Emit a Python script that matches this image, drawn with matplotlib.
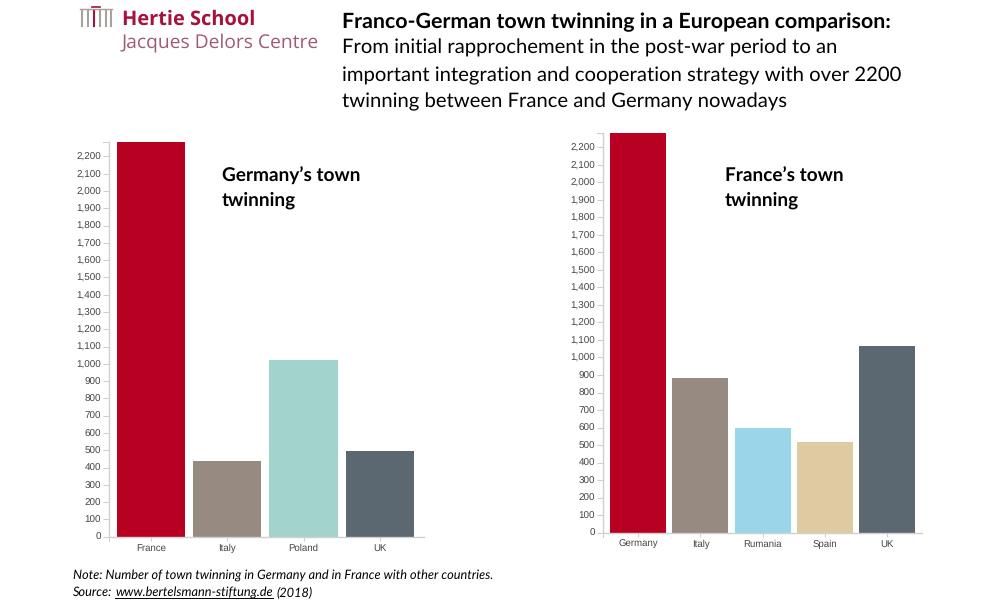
import matplotlib
matplotlib.use('Agg')
import matplotlib.pyplot as plt
from matplotlib.lines import Line2D

W, H = 991, 603

# values
germany_labels = ['France', 'Italy', 'Poland', 'UK']
germany_values = [2283, 436, 1020, 495]
germany_colors = ['#b80023', '#968a81', '#a2d3cc', '#5b6771']

france_labels = ['Germany', 'Italy', 'Rumania', 'Spain', 'UK']
france_values = [2281, 883, 600, 518, 1065]
france_colors = ['#b80023', '#968a81', '#9ad6ea', '#decba2', '#5b6771']

y_ticks = list(range(0, 2300, 100))

plt.rcParams['font.family'] = 'Lato'
plt.rcParams['text.hinting'] = 'no_hinting'

fig = plt.figure(figsize=(W / 100, H / 100), dpi=100)


def make_axes(x0, x1, y_top, y_base):
    return fig.add_axes([x0 / W, 1 - y_base / H, (x1 - x0) / W, (y_base - y_top) / H])


def bar_panel(ax, labels, values, colors, width, xlim, ylim):
    ax.bar(range(len(labels)), values, width=width, color=colors, linewidth=0)
    ax.set_xlim(*xlim)
    ax.set_ylim(0, ylim)
    ax.set_yticks(y_ticks)
    ax.set_yticklabels([f'{v:,}' for v in y_ticks], family='Liberation Sans', fontsize=7.1, color='#444444', va='center_baseline')
    ax.set_xticks(range(len(labels)))
    ax.set_xticklabels(labels, family='Liberation Sans', fontsize=6.9, color='#444444', va='baseline')
    ax.tick_params(axis='y', length=4, width=0.8, color='#d0d0d0', pad=1.5)
    ax.tick_params(axis='x', length=3, width=0.8, color='#d0d0d0', pad=6.9)
    for side in ['top', 'right']:
        ax.spines[side].set_visible(False)
    for side in ['left', 'bottom']:
        ax.spines[side].set_color('#d0d0d0')
        ax.spines[side].set_linewidth(1.0)
    # outer ticks at the end of the axes
    ax.add_line(Line2D([-5.5 / W / ax.get_position().width, 0], [1, 1], transform=ax.transAxes,
                       color='#d0d0d0', lw=0.8, clip_on=False))
    ax.add_line(Line2D([0, 0], [-4 / H / ax.get_position().height, 0], transform=ax.transAxes,
                       color='#d0d0d0', lw=0.8, clip_on=False))


ax1 = make_axes(108.5, 424, 142, 536.7)
bar_panel(ax1, germany_labels, germany_values, germany_colors, 0.895, (-0.557, 3.578), 2283)

ax2 = make_axes(602.7, 921.7, 133, 532.7)
bar_panel(ax2, france_labels, france_values, france_colors, 0.9, (-0.572, 4.556), 2281)


def put_text(x, y, s, **kw):
    return fig.text(x / W, 1 - y / H, s, va='baseline', **kw)


# title
put_text(342, 28, 'Franco-German town twinning in a European comparison:', fontsize=15.4, fontweight='bold', color='black')
put_text(342, 54, 'From initial rapprochement in the post-war period to an', fontsize=14.6, color='black')
put_text(342, 81, 'important integration and cooperation strategy with over 2200', fontsize=14.6, color='black')
put_text(342, 107, 'twinning between France and Germany nowadays', fontsize=14.6, color='black')

# panel headings
put_text(222, 182, 'Germany\u2019s town', fontsize=13.7, fontweight='bold')
put_text(222, 206, 'twinning', fontsize=13.7, fontweight='bold')
put_text(725, 182, 'France\u2019s town', fontsize=13.7, fontweight='bold')
put_text(725, 206, 'twinning', fontsize=13.7, fontweight='bold')

# note and source
put_text(73, 579, 'Note: Number of town twinning in Germany and in France with other countries.', fontsize=9.15, style='italic')
s1 = put_text(73, 596, 'Source:', fontsize=9.15, style='italic')
fig.canvas.draw()
rend = fig.canvas.get_renderer()
x_url = s1.get_window_extent(rend).x1 + 3
s2 = put_text(x_url, 596, 'www.bertelsmann-stiftung.de', fontsize=9.15, style='italic')
ext = s2.get_window_extent(rend)
fig.add_artist(Line2D([ext.x0 / W, ext.x1 / W], [1 - 598 / H, 1 - 598 / H], color='black', lw=0.7))
put_text(ext.x1 + 3, 596, '(2018)', fontsize=9.15, style='italic')

# logo
put_text(122, 25, 'Hertie School', fontsize=14.4, fontweight='bold', color='#a6123c', family='Open Sans')
put_text(122, 47, 'Jacques Delors Centre', fontsize=13.9, color='#a05a72', family='Open Sans')
for px in [81.5, 87.5, 93.5, 99.5, 105.5, 111]:
    c = '#a6123c' if px == 93.5 else '#a8a29c'
    fig.add_artist(Line2D([px / W, px / W], [1 - 10 / H, 1 - 26 / H], color=c, lw=1.5))
fig.add_artist(Line2D([80 / W, 112 / W], [1 - 8.5 / H, 1 - 8.5 / H], color='#a8a29c', lw=1))
fig.add_artist(Line2D([92 / W, 100 / W], [1 - 6.5 / H, 1 - 6.5 / H], color='#a6123c', lw=1.2))

fig.savefig('out.png', dpi=100)
